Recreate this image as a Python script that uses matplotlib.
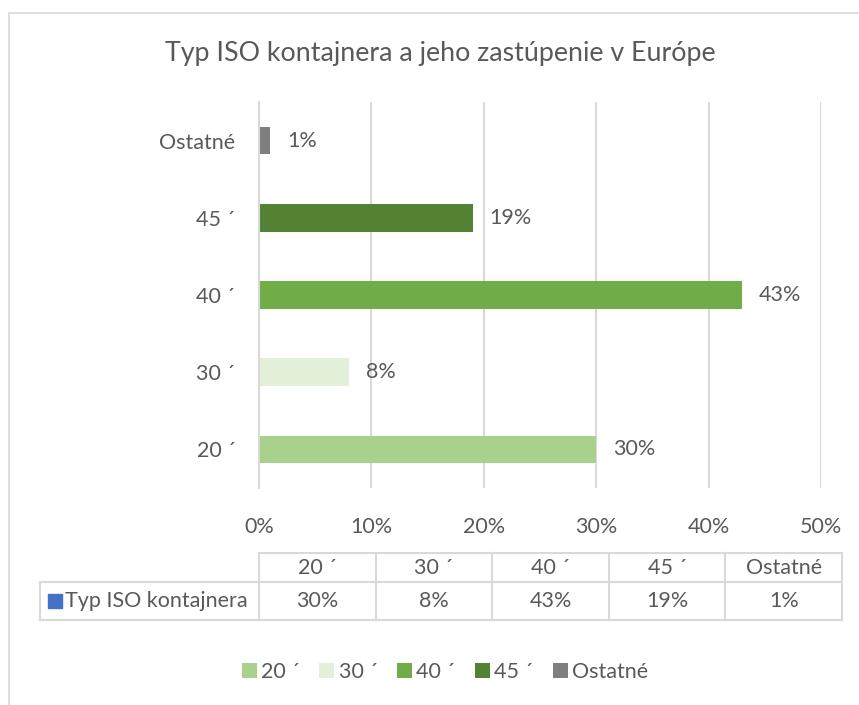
import matplotlib
matplotlib.use('Agg')
import matplotlib.pyplot as plt
from matplotlib.patches import Rectangle, Patch
from matplotlib.lines import Line2D

plt.rcParams['font.family'] = ['Lato', 'DejaVu Sans']

categories = ['20 ´', '30 ´', '40 ´', '45 ´', 'Ostatné']
values = [30, 8, 43, 19, 1]
colors = ['#A9D18E', '#E2F0D9', '#70AD47', '#548235', '#7F7F7F']
series_name = 'Typ ISO kontajnera'
title = 'Typ ISO kontajnera a jeho zastúpenie v Európe'
xticks = [0, 10, 20, 30, 40, 50]

W, H = 859, 705
txt = '#595959'
grid = '#D9D9D9'
fs = 15.5

fig = plt.figure(figsize=(W / 100, H / 100), dpi=100)

# outer chart border (cropped on right and bottom)
fig.patches.append(Rectangle((9 / W, -0.1), 1.2, 1 - 13 / H + 0.1,
                             transform=fig.transFigure, fill=False,
                             edgecolor=grid, linewidth=1.2))

left, right = 259 / W, 821 / W
top, bottom = 1 - 102 / H, 1 - 488 / H
ax = fig.add_axes([left, bottom, right - left, top - bottom])

ypos = list(range(len(categories)))
ax.barh(ypos, values, height=0.36, color=colors, zorder=3)
for y, v in zip(ypos, values):
    ax.annotate('%d%%' % v, (v, y), xytext=(12, 0), textcoords='offset points',
                va='center', ha='left', fontsize=fs, color=txt)

ax.set_xlim(0, 50)
ax.set_ylim(-0.5, len(categories) - 0.5)
ax.set_xticks(xticks)
ax.set_xticklabels(['%d%%' % t for t in xticks], fontsize=fs, color=txt)
ax.set_yticks(ypos)
ax.set_yticklabels(categories, fontsize=fs, color=txt)
ax.tick_params(length=0, pad=17, axis='y')
ax.tick_params(length=0, pad=21, axis='x')
ax.xaxis.grid(True, color=grid, linewidth=1.5, zorder=0)
for s in ['top', 'right', 'bottom']:
    ax.spines[s].set_visible(False)
ax.spines['left'].set_color(grid)
ax.spines['left'].set_linewidth(1.5)
ax.spines['left'].set_zorder(4)

fig.text(440 / W, 1 - 53 / H, title, ha='center', va='center',
         fontsize=19.3, color=txt)

# data table below the axis
ov = fig.add_axes([0, 0, 1, 1], facecolor='none')
ov.set_xlim(0, W)
ov.set_ylim(H, 0)
ov.axis('off')
n = len(categories)
tx0, tx1 = 259, 842
cw = (tx1 - tx0) / n
y0, y1, y2 = 553, 582, 620
lk = dict(color=grid, linewidth=1.5)
ov.add_line(Line2D([tx0, tx1], [y0, y0], **lk))
ov.add_line(Line2D([40, tx1], [y1, y1], **lk))
ov.add_line(Line2D([40, tx1], [y2, y2], **lk))
ov.add_line(Line2D([40, 40], [y1, y2], **lk))
for i in range(n + 1):
    x = tx0 + i * cw
    ov.add_line(Line2D([x, x], [y0, y2], **lk))
for i, (c, v) in enumerate(zip(categories, values)):
    xc = tx0 + (i + 0.5) * cw
    ov.text(xc, (y0 + y1) / 2, c, ha='center', va='center', fontsize=fs, color=txt)
    ov.text(xc, (y1 + y2) / 2, '%d%%' % v, ha='center', va='center', fontsize=fs, color=txt)
ov.add_patch(Rectangle((48, (y1 + y2) / 2 - 7), 14, 14, color='#4472C4'))
ov.text(65, (y1 + y2) / 2, series_name, ha='left', va='center', fontsize=fs, color=txt)

handles = [Patch(facecolor=c, edgecolor='none') for c in colors]
fig.legend(handles, categories, loc='center', bbox_to_anchor=(445 / W, 1 - 672 / H),
           ncol=n, frameon=False, fontsize=fs, handlelength=0.7, handleheight=0.7,
           handletextpad=0.2, columnspacing=0.9, labelcolor=txt)

fig.savefig('out.png', dpi=100)
